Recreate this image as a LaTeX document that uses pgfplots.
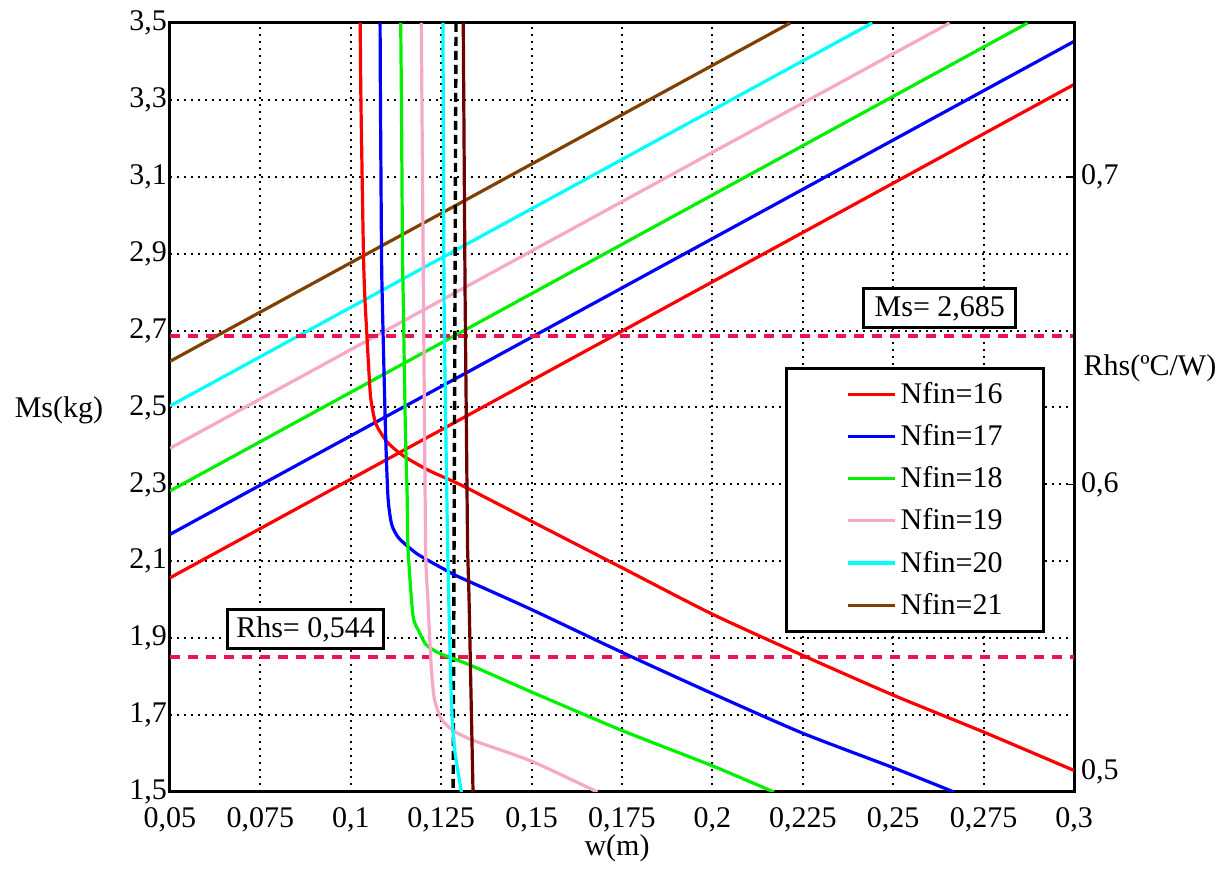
\documentclass[border=0pt]{standalone}
\usepackage{fontspec}
\setmainfont{Liberation Serif}
\usepackage{pgfplots}
\pgfplotsset{compat=1.18}
\definecolor{cRed}{RGB}{255,0,0}
\definecolor{cBlue}{RGB}{0,0,255}
\definecolor{cGreen}{RGB}{0,240,0}
\definecolor{cPink}{RGB}{245,168,200}
\definecolor{cCyan}{RGB}{0,255,255}
\definecolor{cBrown}{RGB}{128,64,0}
\definecolor{cMaroon}{RGB}{110,0,0}
\definecolor{cDash}{RGB}{235,20,80}
\newcommand{\bigfont}{\fontsize{15}{18}\selectfont}
\begin{document}
\begin{tikzpicture}
\pgfplotsset{
  common/.style={width=452pt,height=384.5pt,scale only axis,
    xmin=0.05,xmax=0.3,
    tick label style={font=\bigfont},
  },
  lin/.style={line width=1.6pt,#1},
}
\begin{axis}[common,
  ymin=1.5,ymax=3.5,
  axis line style={line width=1.5pt},
  xtick={0.05,0.075,0.1,0.125,0.15,0.175,0.2,0.225,0.25,0.275,0.3},
  xticklabels={{0,05},{0,075},{0,1},{0,125},{0,15},{0,175},{0,2},{0,225},{0,25},{0,275},{0,3}},
  ytick={1.5,1.7,1.9,2.1,2.3,2.5,2.7,2.9,3.1,3.3,3.5},
  yticklabels={{1,5},{1,7},{1,9},{2,1},{2,3},{2,5},{2,7},{2,9},{3,1},{3,3},{3,5}},
  xticklabel style={yshift=-4pt},
  yticklabel style={xshift=2pt},
  tick style={draw=none},
  grid=major,
  major grid style={black, line width=1pt, dash pattern=on 1pt off 2.5pt},
  xlabel={w(m)},
  ylabel={Ms(kg)},
  every axis x label/.style={at={(axis description cs:0.4945,-0.0735)},anchor=center,font=\bigfont},
  every axis y label/.style={at={(axis description cs:-0.1228,0.4967)},anchor=center,rotate=0,font=\bigfont},
  legend style={at={(0.6803,0.5527)},anchor=north west,
    draw=black, line width=1.5pt, fill=white,
    font=\bigfont, inner xsep=18.5pt, inner ysep=5pt, row sep=5pt},
  legend cell align=left,
  every axis plot post/.append style={legend image code/.code={\path (-11.5pt,0pt); \draw[##1] (0pt,0pt) -- (23.5pt,0pt);}},
]
% Ms lines (left axis)
\addplot[lin=cRed] coordinates {(0.05,2.057) (0.3,3.34)};
\addplot[lin=cBlue] coordinates {(0.05,2.170) (0.3,3.452)};
\addplot[lin=cGreen] coordinates {(0.05,2.283) (0.2872,3.5)};
\addplot[lin=cPink] coordinates {(0.05,2.394) (0.2656,3.5)};
\addplot[lin=cCyan] coordinates {(0.05,2.504) (0.2442,3.5)};
\addplot[lin=cBrown] coordinates {(0.05,2.62) (0.2215,3.5)};
\legend{Nfin=16,Nfin=17,Nfin=18,Nfin=19,Nfin=20,Nfin=21}
% Ms = 2.685
\addplot[forget plot, cDash, line width=2pt, dash pattern=on 5pt off 4pt] coordinates {(0.05,2.685) (0.3,2.685)};
% black dashed vertical
\addplot[forget plot, black, line width=1.7pt, dash pattern=on 4.5pt off 2.5pt] coordinates {(0.1291,3.5) (0.1283,1.5)};
\end{axis}
\begin{axis}[common,
  ymin=0.5,ymax=0.75,
  axis y line*=right, axis x line=none,
  axis line style={line width=1.5pt},
  ytick={0.5,0.6,0.7},
  yticklabels={{\raisebox{22pt}{0,5}},{0,6},{0,7}},
  tick align=inside,
  major tick length=4pt,
  ytick style={black, line width=0.8pt},
  ylabel={Rhs(ºC/W)},
  every axis y label/.style={at={(axis description cs:1.084,0.5514)},anchor=center,rotate=0,font=\bigfont},
]
% Rhs = 0.544
\addplot[cDash, line width=2pt, dash pattern=on 5pt off 4pt] coordinates {(0.05,0.544) (0.3,0.544)};
% Rhs curves (right axis)
\addplot[lin=cRed, smooth, tension=0.4] coordinates {
(0.1026,0.75) (0.1028,0.725) (0.1035,0.675) (0.1039,0.6605) (0.1044,0.6496)
(0.1049,0.6389) (0.1055,0.6281) (0.1067,0.6205) (0.1080,0.6173) (0.1099,0.6140)
(0.1122,0.6114) (0.1154,0.6086) (0.1218,0.6044) (0.1310,0.5995) (0.1500,0.5880)
(0.1750,0.5729) (0.2000,0.5578) (0.2250,0.5444) (0.2500,0.5315) (0.2750,0.5195)
(0.3000,0.5070)};
\addplot[lin=cBlue, smooth, tension=0.4] coordinates {
(0.1081,0.75) (0.1082,0.725) (0.1085,0.675) (0.1087,0.6605) (0.1096,0.6173)
(0.1103,0.5956) (0.1113,0.5870) (0.1131,0.5828) (0.1158,0.5798) (0.1190,0.5769)
(0.1282,0.5709) (0.1326,0.5685) (0.1500,0.5593) (0.1750,0.5454) (0.2000,0.5320)
(0.2250,0.5191) (0.2500,0.5079) (0.2668,0.5)};
\addplot[lin=cGreen, smooth, tension=0.4] coordinates {
(0.1138,0.75) (0.1140,0.725) (0.1143,0.675) (0.1145,0.6605) (0.1151,0.6173)
(0.1156,0.5956) (0.1158,0.5795) (0.1172,0.5574) (0.1190,0.5519) (0.1208,0.5479)
(0.1245,0.5451) (0.1329,0.5413) (0.1500,0.5325) (0.1750,0.5200) (0.2000,0.5085)
(0.2170,0.5)};
\addplot[lin=cPink, smooth, tension=0.4] coordinates {
(0.1195,0.75) (0.1201,0.6605) (0.1207,0.5795) (0.1213,0.5631) (0.1222,0.5413)
(0.1231,0.5304) (0.1250,0.5238) (0.1283,0.5200) (0.1338,0.5168) (0.1500,0.5100)
(0.1682,0.5)};
\addplot[lin=cCyan, smooth, tension=0.4] coordinates {
(0.1255,0.75) (0.1258,0.6605) (0.1268,0.579) (0.1278,0.5304) (0.1287,0.514) (0.1306,0.5)};
\addplot[lin=cMaroon] coordinates {
(0.1311,0.75) (0.1316,0.6625) (0.1323,0.579) (0.1327,0.5631) (0.1338,0.5)};
% annotation boxes
\node[draw=black, line width=1.5pt, fill=white, font=\bigfont, inner xsep=5.5pt, inner ysep=3.5pt, text height=10.5pt, text depth=2pt]
  at (axis cs:0.2629,{0.5+(2.759-1.5)/8}) {Ms= 2,685};
\node[draw=black, line width=1.5pt, fill=white, font=\bigfont, inner xsep=4.5pt, inner ysep=3.5pt, text height=10.5pt, text depth=2pt]
  at (axis cs:0.0875,{0.5+(1.924-1.5)/8}) {Rhs= 0,544};
\end{axis}
\path (-85pt,-33.5pt) rectangle (526.5pt,396pt);
\end{tikzpicture}
\end{document}
